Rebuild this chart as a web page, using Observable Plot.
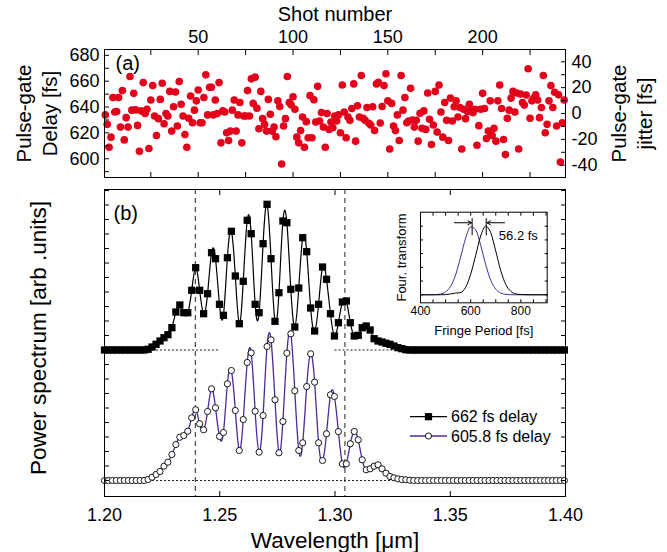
<!DOCTYPE html>
<html><head><meta charset="utf-8">
<script src="https://cdn.jsdelivr.net/npm/d3@7"></script>
<script src="https://cdn.jsdelivr.net/npm/@observablehq/plot@0.6"></script>
<style>
body{margin:0;background:#fff;}
#wrap{position:relative;width:667px;height:552px;font-family:"Liberation Sans",Arial,sans-serif;}
#wrap svg{position:absolute;overflow:visible;}
</style></head><body><div id="wrap"></div>
<script>
// ---------- panel (a): pulse-gate delay per shot ----------
const delays = [
633.9,626.6,608.9,616.7,647.4,636.2,636.5,647.4,624.5,652.7,614.6,631.8,624.5,663.6,637.6,650.6,637.8,625.8,605.8,637.0,658.9,635.0,638.3,607.9,645.4,656.6,633.1,618.0,631.0,645.9,658.4,627.1,635.0,633.1,652.1,621.4,640.2,651.6,625.3,659.7,642.2,633.1,618.8,608.9,631.3,648.5,627.9,637.6,644.8,653.2,627.9,627.9,647.4,664.9,633.9,655.3,655.3,633.9,645.4,635.0,658.9,612.3,
637.0,636.2,620.1,614.1,621.4,637.6,645.4,621.4,633.9,643.5,612.3,633.1,633.1,652.7,633.1,661.8,642.8,663.1,639.1,623.2,652.1,631.0,626.6,621.4,645.9,634.4,621.4,624.5,617.0,644.8,640.4,595.9,625.3,631.0,663.6,643.5,641.7,648.0,638.3,616.7,612.3,621.9,632.3,608.9,628.7,616.2,648.8,616.2,645.6,628.4,656.0,629.2,635.7,624.5,608.9,635.0,622.7,628.4,624.0,633.1,629.2,
633.9,620.1,657.1,636.2,616.2,632.3,629.7,638.9,657.9,613.6,640.9,632.3,664.4,631.3,629.7,639.6,627.4,626.1,640.2,621.9,657.9,659.2,627.7,640.4,656.6,665.7,644.8,607.6,642.8,625.3,621.9,633.9,614.1,664.4,637.6,647.4,627.9,629.2,654.5,630.0,624.5,629.7,613.6,635.2,623.5,637.0,622.7,650.8,630.5,611.0,626.1,652.1,620.6,657.1,636.2,616.7,643.5,629.7,614.1,646.9,629.2,
640.2,644.8,632.3,639.6,607.6,638.3,631.0,636.5,642.2,637.0,635.7,638.3,610.5,625.6,638.3,650.6,638.9,615.7,621.4,644.8,618.0,623.5,613.6,644.8,657.1,638.9,614.9,603.2,631.3,637.6,646.9,652.1,636.2,650.8,607.6,650.0,643.5,641.5,649.3,669.6,631.3,644.8,646.9,649.5,645.4,631.8,639.6,664.4,620.1,626.6,644.8,656.6,639.6,651.4,625.3,649.5,597.4,627.9,645.4
];
const shots = delays.map((_, i) => i + 1);
const jitterOffset = 635;              // mean delay -> 0 fs jitter
const shotTicks = [50, 100, 150, 200];
const shotMinor = [25, 50, 75, 100, 125, 150, 175, 200, 225];
const delayTicks = [600, 620, 640, 660, 680];
const delayMinor = [590, 600, 610, 620, 630, 640, 650, 660, 670, 680];
const jitterTicks = [-40, -20, 0, 20, 40];
const jitterMinor = [-40, -30, -20, -10, 0, 10, 20, 30, 40];

// ---------- panel (b): spectra ----------
const nSamples = 117;
const wavelengths = d3.range(nSamples).map(k => 1.2 + 0.00172 * k);
const spec662 = [
0,0,0,0,0,0,0,0,0,0,0,
0.7,3,5.7,9,12.3,15.3,22.3,38,45,37.3,
37.3,59.7,82.3,59.7,36.3,56.3,97.3,91.3,45.7,34.7,
92.3,118.7,74,26.3,68.7,129.7,116.3,45.7,37.3,106.3,
145.7,91.3,28.7,57.3,129,127.3,60.7,23,62,112.3,
98.3,42,19,45.7,83,70.7,36.3,14,27.3,48,
49,27.3,14,14.7,22.3,24,20,11.3,9,8,
6.7,5.7,4,2.3,1.3,0.3,0,0,0,0,
0,0,0,0,0,0,0,0,0,0,0,0,0,0,0,0,0,0,0,0,0,0,0,0,0,0,0,0,0,0,0,0,0,0,0,0
];
const spec606 = [
0,0,0,0,0,0,0,0,0,0,0,
1,3.3,6,9,14.3,18.3,26,36,43.3,45,
49.3,62.7,70.7,56.7,50.7,69,91.7,72.7,44,48,
96.7,110,70,30,61,118,127.7,69.3,28.3,65,
134,140.7,80.7,27.7,59,127.3,146.7,89.7,30,37.7,
94,126.7,98.3,37.7,20,46.7,85.7,84,49,16.7,
16.7,36.7,49,40.7,20.7,10.7,11.7,14.3,15.7,11.7,
7.3,4,2.7,1.7,1,0.7,0.3,0,0,0,
0,0,0,0,0,0,0,0,0,0,0,0,0,0,0,0,0,0,0,0,0,0,0,0,0,0,0,0,0,0,0,0,0,0,0,0
];
const offset662 = 130.5;               // vertical offset of the upper trace
const markerWavelengths = [1.2394, 1.3043];
const baselineSegments = [
  {y: 130.5, x1: 1.20, x2: 1.25},
  {y: 130.5, x1: 1.30, x2: 1.40},
  {y: 0, x1: 1.20, x2: 1.40}
];
const wlTicks = [1.20, 1.25, 1.30, 1.35, 1.40];
const wlMinor = [1.20, 1.25, 1.30, 1.35, 1.40];
const powerTicks = d3.range(0, 291, 14.5);

// ---------- inset: Fourier transform ----------
const ftPeriod = [400,440,460,480,500,520,540,560,580,600,620,640,660,680,700,720,740,760,780,800,840,905];
const ft606 = [0,0,0.002,0.011,0.041,0.123,0.291,0.549,0.826,0.99,0.946,0.72,0.438,0.212,0.082,0.025,0.006,0.001,0,0,0,0];
const ft662 = [0,0,0,0,0.003,0.012,0.025,0.032,0.11,0.3,0.576,0.86,1.0,0.904,0.637,0.35,0.15,0.05,0.013,0.003,0,0];
const insetTicks = [400, 600, 800];
const insetMinor = [400,450,500,550,600,650,700,750,800,850,900];
const insetYMinor = [0, 0.2, 0.4, 0.6, 0.8, 1.0];
const peakMarkers = [{t: 605.8, lo: 0.86, hi: 1.11}, {t: 662, lo: 0.86, hi: 1.11}];
const arrows = [{x1: 535, x2: 603, y: 1.05}, {x1: 735, x2: 665, y: 1.05}];
const separation = "56.2 fs";

const purple = "#4b2a98";
const font = "Liberation Sans, Arial, sans-serif";
const wrap = document.getElementById("wrap");

function place(svg, left, top) {
  svg.style.left = left + "px";
  svg.style.top = top + "px";
  wrap.appendChild(svg);
}

const noText = () => "";
// inward-pointing tick helpers (tick drawn outward then shifted back inside the frame)
const inX = (anchor, ticks, len) => Plot.axisX({anchor, ticks, tickSize: len, tickFormat: noText, label: null,
  ...(anchor === "top" ? {insetTop: len} : {insetBottom: len})});
const inY = (anchor, ticks, len) => Plot.axisY({anchor, ticks, tickSize: len, tickFormat: noText, label: null,
  ...(anchor === "left" ? {insetLeft: len} : {insetRight: len})});

// ---------- top panel ----------
const shotData = shots.map((s, i) => ({shot: s, delay: delays[i]}));
const topPlot = Plot.plot({
  width: 667, height: 185,
  marginTop: 49, marginBottom: 8, marginLeft: 104, marginRight: 102,
  style: {fontFamily: font, fontSize: "18px", background: "transparent", color: "#000", overflow: "visible"},
  x: {domain: [0.58, 243.7]},
  y: {domain: [585.5, 684.5]},
  marks: [
    Plot.dot(shotData, {x: "shot", y: "delay", r: 3.8, fill: "#e2001a", stroke: "none"}),
    Plot.frame({stroke: "#000", strokeWidth: 1}),
    inX("top", shotMinor, 5),
    inX("bottom", shotMinor, 5),
    inY("left", delayMinor, 5),
    inY("right", jitterMinor.map(j => j + jitterOffset), 5),
    Plot.axisX({anchor: "top", ticks: shotTicks, tickSize: 0, tickPadding: 7, label: null}),
    Plot.axisY({anchor: "left", ticks: delayTicks, tickSize: 0, tickPadding: 5, label: null}),
    Plot.axisY({anchor: "right", ticks: jitterTicks.map(j => j + jitterOffset), tickSize: 0, tickPadding: 6,
      tickFormat: d => String(Math.round(d - jitterOffset)), label: null}),
    Plot.text(["Shot number"], {frameAnchor: "top", dy: -35, fontSize: 20, textAnchor: "middle", lineAnchor: "middle"}),
    Plot.text(["Pulse-gate\nDelay [fs]"], {frameAnchor: "left", dx: -69, rotate: -90, fontSize: 20.5, lineHeight: 1.25,
      textAnchor: "middle", lineAnchor: "middle"}),
    Plot.text(["Pulse-gate\njitter [fs]"], {frameAnchor: "right", dx: 65, rotate: -90, fontSize: 20.5, lineHeight: 1.25,
      textAnchor: "middle", lineAnchor: "middle"}),
    Plot.text(["(a)"], {frameAnchor: "top-left", dx: 11, dy: 14, fontSize: 20, textAnchor: "start", lineAnchor: "middle"})
  ]
});
place(topPlot, 0, 0);

// ---------- bottom panel ----------
const specData = wavelengths.map((w, i) => ({wl: w, a: spec662[i] + offset662, b: spec606[i]}));
const bottomPlot = Plot.plot({
  width: 667, height: 367,
  marginTop: 4, marginBottom: 56, marginLeft: 104, marginRight: 102,
  style: {fontFamily: font, fontSize: "18px", background: "transparent", color: "#000", overflow: "visible"},
  x: {domain: [1.2, 1.4]},
  y: {domain: [-16, 291]},
  marks: [
    Plot.ruleX(markerWavelengths, {stroke: "#222", strokeWidth: 1, strokeDasharray: "5,4"}),
    Plot.ruleY(baselineSegments, {y: "y", x1: "x1", x2: "x2", stroke: "#222", strokeWidth: 1, strokeDasharray: "2,2"}),
    Plot.line(specData, {x: "wl", y: "a", curve: "natural", stroke: "#000", strokeWidth: 1.2}),
    Plot.dot(specData, {x: "wl", y: "a", symbol: "square", r: 4.1, fill: "#000", stroke: "none"}),
    Plot.line(specData, {x: "wl", y: "b", curve: "natural", stroke: purple, strokeWidth: 1.3}),
    Plot.dot(specData, {x: "wl", y: "b", symbol: "circle", r: 3.1, fill: "#fff", stroke: "#000", strokeWidth: 0.9}),
    Plot.frame({stroke: "#000", strokeWidth: 1}),
    inX("bottom", wlMinor, 5),
    inX("top", wlMinor, 5),
    inY("left", powerTicks, 5),
    inY("right", powerTicks, 5),
    Plot.axisX({anchor: "bottom", ticks: wlTicks, tickSize: 0, tickPadding: 12, tickFormat: d3.format(".2f"), label: null}),
    Plot.text(["Wavelength [\u03bcm]"], {frameAnchor: "bottom", dy: 44, fontSize: 22.5, textAnchor: "middle", lineAnchor: "middle"}),
    Plot.text(["Power spectrum [arb .units]"], {frameAnchor: "left", dx: -66, dy: -5, rotate: -90, fontSize: 22.5,
      textAnchor: "middle", lineAnchor: "middle"}),
    Plot.text(["(b)"], {frameAnchor: "top-left", dx: 9, dy: 24, fontSize: 20, textAnchor: "start", lineAnchor: "middle"})
  ]
});
place(bottomPlot, 0, 185);

// ---------- inset ----------
const ftData = ftPeriod.map((t, i) => ({t, a: ft662[i], b: ft606[i]}));
const insetPlot = Plot.plot({
  width: 170, height: 140,
  marginLeft: 30, marginRight: 13.3, marginTop: 11.7, marginBottom: 37.7,
  style: {fontFamily: font, fontSize: "12px", background: "transparent", color: "#000", overflow: "visible"},
  x: {domain: [400, 905]},
  y: {domain: [-0.117, 1.204]},
  marks: [
    Plot.line(ftData, {x: "t", y: "b", curve: "monotone-x", stroke: purple, strokeWidth: 1}),
    Plot.line(ftData, {x: "t", y: "a", curve: "monotone-x", stroke: "#000", strokeWidth: 1}),
    Plot.ruleX(peakMarkers, {x: "t", y1: "lo", y2: "hi", stroke: "#000", strokeWidth: 1}),
    Plot.arrow(arrows, {x1: "x1", x2: "x2", y1: "y", y2: "y", stroke: "#000", strokeWidth: 1, headLength: 6}),
    Plot.text([separation], {x: [790], y: [0.86], fontSize: 13, text: d => d}),
    Plot.frame({stroke: "#000", strokeWidth: 1}),
    inX("bottom", insetMinor, 3),
    inX("top", insetMinor, 3),
    inY("left", insetYMinor, 3),
    inY("right", insetYMinor, 3),
    Plot.axisX({anchor: "bottom", ticks: insetTicks, tickSize: 0, tickPadding: 4, label: null}),
    Plot.text(["Fringe Period [fs]"], {frameAnchor: "bottom", dy: 28, fontSize: 13, textAnchor: "middle", lineAnchor: "middle"}),
    Plot.text(["Four. transform"], {frameAnchor: "left", dx: -19, rotate: -90, fontSize: 13, textAnchor: "middle", lineAnchor: "middle"})
  ]
});
place(insetPlot, 390, 200);

// ---------- legend ----------
const legendItems = [
  {label: "662 fs delay", color: "#000", symbol: "square"},
  {label: "605.8 fs delay", color: purple, symbol: "circle"}
];
const ns = "http://www.w3.org/2000/svg";
const leg = document.createElementNS(ns, "svg");
leg.setAttribute("width", 667); leg.setAttribute("height", 552);
leg.style.left = "0px"; leg.style.top = "0px";
leg.style.fontFamily = font;
legendItems.forEach((it, i) => {
  const y = 416.7 + i * 19.3;
  const line = document.createElementNS(ns, "line");
  line.setAttribute("x1", 410); line.setAttribute("x2", 447);
  line.setAttribute("y1", y); line.setAttribute("y2", y);
  line.setAttribute("stroke", it.color); line.setAttribute("stroke-width", 1.3);
  leg.appendChild(line);
  let m;
  if (it.symbol === "square") {
    m = document.createElementNS(ns, "rect");
    m.setAttribute("x", 428.5 - 3.6); m.setAttribute("y", y - 3.6);
    m.setAttribute("width", 7.2); m.setAttribute("height", 7.2);
    m.setAttribute("fill", "#000");
  } else {
    m = document.createElementNS(ns, "circle");
    m.setAttribute("cx", 428.5); m.setAttribute("cy", y); m.setAttribute("r", 3.1);
    m.setAttribute("fill", "#fff"); m.setAttribute("stroke", "#000"); m.setAttribute("stroke-width", 0.9);
  }
  leg.appendChild(m);
  const t = document.createElementNS(ns, "text");
  t.setAttribute("x", 451); t.setAttribute("y", y);
  t.setAttribute("dy", "0.35em");
  t.setAttribute("font-size", 16);
  t.textContent = it.label;
  leg.appendChild(t);
});
wrap.appendChild(leg);
</script>
</body></html>
